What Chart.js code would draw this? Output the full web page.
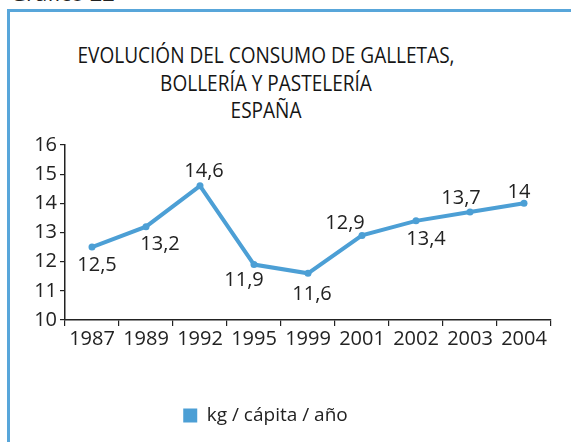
<!DOCTYPE html>
<html>
<head>
<meta charset="utf-8">
<script src="https://cdn.jsdelivr.net/npm/chart.js@4.4.1/dist/chart.umd.min.js"></script>
<style>
  html, body { margin: 0; padding: 0; background: #fff; width: 571px; height: 442px; overflow: hidden; position: relative; }
  #frame { position: absolute; left: 7px; top: 9px; width: 700px; height: 600px; border-left: 3px solid #58a6da; border-top: 3px solid #58a6da; }
  #fig { position: absolute; left: 10px; top: -19px; font-family: "Open Sans", sans-serif; font-size: 22px; color: #222; line-height: 1; }
  #title { position: absolute; left: 0; top: 41px; width: 532px; text-align: center; font-family: "Open Sans", sans-serif; font-size: 22px; line-height: 27.5px; color: #151515; transform-origin: 266px 0; }
  #title span { display: inline-block; white-space: nowrap; }
  #c { position: absolute; left: -20px; top: 0; }
</style>
</head>
<body>
<div id="fig">Gráfico 22</div>
<div id="frame"></div>
<div id="title"></div>
<canvas id="c" width="572" height="442"></canvas>
<script>
const categories = ["1987", "1989", "1992", "1995", "1999", "2001", "2002", "2003", "2004"];
const consumo = [12.5, 13.2, 14.6, 11.9, 11.6, 12.9, 13.4, 13.7, 14];
const seriesName = "kg / cápita / año";
const titleLines = ["EVOLUCIÓN DEL CONSUMO DE GALLETAS,", "BOLLERÍA Y PASTELERÍA", "ESPAÑA"];
const yTicks = [10, 11, 12, 13, 14, 15, 16];

// label offsets (style only) relative to each point
const labelOffsets = [[5, 18], [14, 18], [4, -15], [-10, 16], [4, 21], [-17, -12], [10, 18], [-9, -14], [-5, -11]];

const BLUE = "#4c9fd5";
const INK = "#222";
const tickFont = { family: "'Open Sans', sans-serif", size: 20 };

// title (real text), horizontally condensed to match the narrow typeface
const titleEl = document.getElementById("title");
titleLines.forEach((t, i) => {
  const s = document.createElement("span");
  s.textContent = t;
  titleEl.appendChild(s);
  if (i < titleLines.length - 1) titleEl.appendChild(document.createElement("br"));
});
const firstW = titleEl.querySelector("span").getBoundingClientRect().width;
titleEl.style.transform = "scaleX(" + (377 / firstW).toFixed(4) + ")";

const valueLabels = {
  id: "valueLabels",
  afterDatasetsDraw(chart) {
    const ctx = chart.ctx;
    const meta = chart.getDatasetMeta(0);
    ctx.save();
    ctx.font = "20px 'Open Sans', sans-serif";
    ctx.fillStyle = INK;
    ctx.textAlign = "center";
    ctx.textBaseline = "middle";
    meta.data.forEach((pt, i) => {
      const v = chart.data.datasets[0].data[i];
      const [dx, dy] = labelOffsets[i];
      ctx.fillText(String(v).replace(".", ","), pt.x + dx, pt.y + dy);
    });
    ctx.restore();
  }
};

new Chart(document.getElementById("c"), {
  type: "line",
  data: {
    labels: categories,
    datasets: [{
      label: seriesName,
      data: consumo,
      borderColor: BLUE,
      backgroundColor: BLUE,
      borderWidth: 4,
      pointRadius: 3.5,
      pointBorderWidth: 0,
      pointBackgroundColor: BLUE,
      tension: 0
    }]
  },
  options: {
    responsive: false,
    animation: false,
    devicePixelRatio: 1,
    layout: { autoPadding: false, padding: { left: 0, right: 1, top: 145, bottom: 7 } },
    plugins: {
      tooltip: { enabled: false },
      title: { display: false },
      legend: {
        position: "bottom",
        labels: {
          color: INK,
          font: { family: "'Open Sans', sans-serif", size: 19 },
          boxWidth: 14,
          boxHeight: 14,
          padding: 10,
          generateLabels(chart) {
            return chart.data.datasets.map((ds, i) => ({
              text: ds.label, fillStyle: BLUE, strokeStyle: BLUE, lineWidth: 0, hidden: false, datasetIndex: i, fontColor: INK
            }));
          }
        }
      }
    },
    scales: {
      x: {
        offset: true,
        grid: { offset: true, drawOnChartArea: false, tickLength: 6, color: INK, lineWidth: 1.2 },
        border: { display: true, color: INK, width: 1.5 },
        ticks: { color: INK, font: tickFont, padding: 1, maxRotation: 0, autoSkip: false },
        afterFit(s) { s.height = 76; s.paddingLeft = 0; s.paddingRight = 0; }
      },
      y: {
        min: 10, max: 16,
        afterBuildTicks(s) { s.ticks = yTicks.map(v => ({ value: v })); },
        grid: { drawOnChartArea: false, tickLength: 5, color: INK, lineWidth: 1.2 },
        border: { display: true, color: INK, width: 1.5 },
        ticks: { color: INK, font: tickFont, padding: 3 },
        afterFit(s) { s.width = 85; s.paddingTop = 0; s.paddingBottom = 0; }
      }
    }
  },
  plugins: [valueLabels]
});
</script>
</body>
</html>
